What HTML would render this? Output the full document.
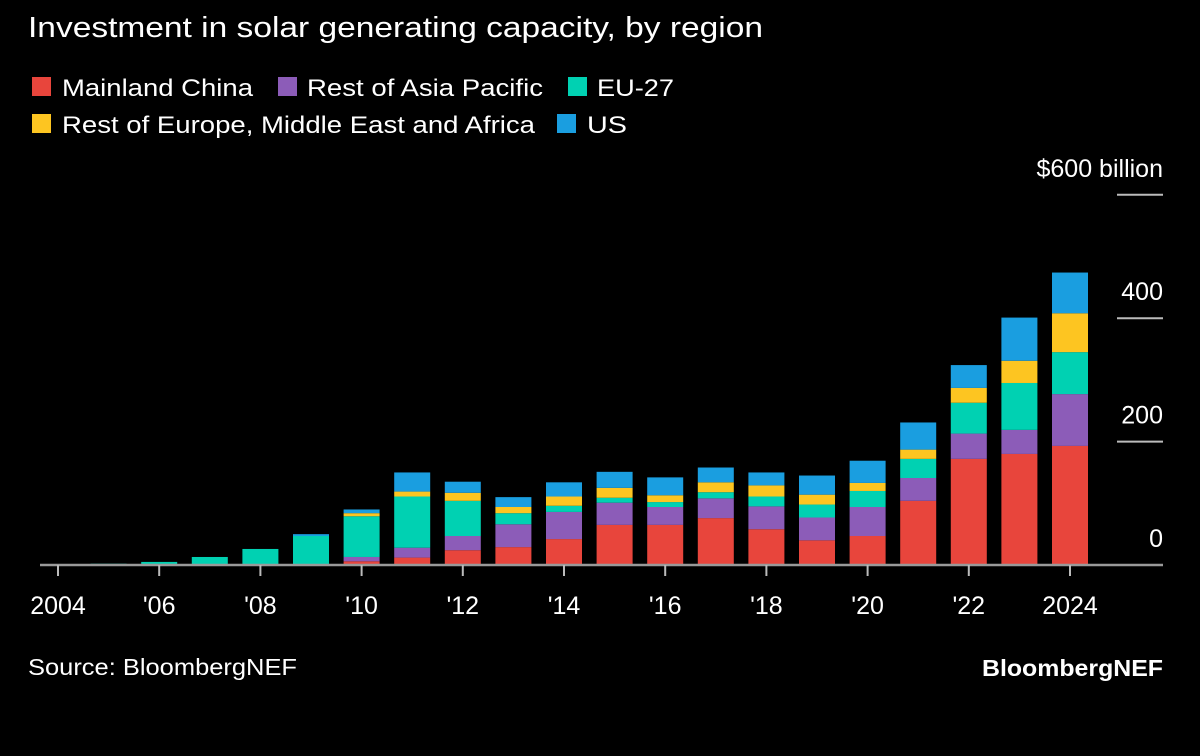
<!DOCTYPE html>
<html><head><meta charset="utf-8"><style>
body{margin:0;background:#000;width:1200px;height:756px;overflow:hidden;font-family:"Liberation Sans",sans-serif;color:#fff}
svg{position:absolute;left:0;top:0}
</style></head><body>
<svg width="1200" height="756" id="c">
<text x="28" y="37" font-size="29" fill="#fff" textLength="735" lengthAdjust="spacingAndGlyphs">Investment in solar generating capacity, by region</text>
<g font-size="24" fill="#fff">
<g><rect x="32" y="77" width="19" height="19" fill="#e8453c"/><text x="62" y="96" textLength="191" lengthAdjust="spacingAndGlyphs">Mainland China</text></g>
<g><rect x="278" y="77" width="19" height="19" fill="#8c5cb8"/><text x="307" y="96" textLength="236" lengthAdjust="spacingAndGlyphs">Rest of Asia Pacific</text></g>
<g><rect x="568" y="77" width="19" height="19" fill="#00d1b2"/><text x="597" y="96" textLength="77" lengthAdjust="spacingAndGlyphs">EU-27</text></g>
<g><rect x="32" y="114" width="19" height="19" fill="#fdc521"/><text x="62" y="133" textLength="473" lengthAdjust="spacingAndGlyphs">Rest of Europe, Middle East and Africa</text></g>
<g><rect x="557" y="114" width="19" height="19" fill="#1a9ee0"/><text x="587" y="133" textLength="40" lengthAdjust="spacingAndGlyphs">US</text></g>
</g>
<g id="plot"></g>
<text x="28" y="675" font-size="23" fill="#fff" textLength="269" lengthAdjust="spacingAndGlyphs">Source: BloombergNEF</text>
<text x="982" y="676" font-size="23" font-weight="bold" fill="#fff" textLength="181" lengthAdjust="spacingAndGlyphs">BloombergNEF</text>
</svg>
<script>
const years=[2004,2005,2006,2007,2008,2009,2010,2011,2012,2013,2014,2015,2016,2017,2018,2019,2020,2021,2022,2023,2024];
const china=[0,0,0,0,0,0,6,12,24,29,42,65,65,76,58,40,47,104,172,180,193];
const restAsia=[0,0,0,0,1,1,7,16,23,37,44,36,29,32,37,37,47,37,41,39,84];
const eu27=[1,2,5,13,25,46,66,83,57,18,10,8,8,10,16,21,26,31,50,76,68];
const restEmea=[0,0,0,0,0,0,5,8,13,10,15,16,11,16,18,16,13,15,24,36,63];
const us=[0,0,0,0,0,3,6,31,18,16,23,26,29,24,21,31,36,44,37,70,66];
const yTicks=[0,200,400,600];
const xTickLabels=["2004","'06","'08","'10","'12","'14","'16","'18","'20","'22","2024"];
const series=[[china,"#e8453c","china"],[restAsia,"#8c5cb8","rest-of-asia-pacific"],[eu27,"#00d1b2","eu27"],[restEmea,"#fdc521","rest-of-emea"],[us,"#1a9ee0","us"]];
const NS="http://www.w3.org/2000/svg";
const g=document.getElementById('plot');
const y0=565,k=0.617;
const yS=v=>y0-v*k;
const xS=yr=>58+(yr-2004)*50.6;
const bw=36;
function mk(t,a){const e=document.createElementNS(NS,t);for(const n in a)e.setAttribute(n,a[n]);g.appendChild(e);return e;}
years.forEach((yr,i)=>{let base=0;series.forEach(s=>{const v=s[0][i];if(v<=0)return;
const r=mk('rect',{x:xS(yr)-bw/2,y:yS(base+v),width:bw,height:v*k,fill:s[1]});


base+=v;});});
const ax=mk('line',{x1:40,x2:1163,y1:y0,y2:y0,stroke:'#999','stroke-width':2.5});


yTicks.forEach((v,i)=>{
if(v>0){const l=mk('line',{x1:1117,x2:1163,y1:yS(v),y2:yS(v),stroke:'#bbb','stroke-width':2});

}
const t=mk('text',{x:1163,y:yS(v)-18,'font-size':25,fill:'#fff','text-anchor':'end'});
t.textContent=v===600?'$600 billion':String(v);

});
xTickLabels.forEach((lab,i)=>{const yr=2004+i*2;
const l=mk('line',{x1:xS(yr),x2:xS(yr),y1:y0,y2:y0+11,stroke:'#bbb','stroke-width':2});


const t=mk('text',{x:xS(yr),y:614,'font-size':25,fill:'#fff','text-anchor':'middle'});
t.textContent=lab;

});
</script>
</body></html>
